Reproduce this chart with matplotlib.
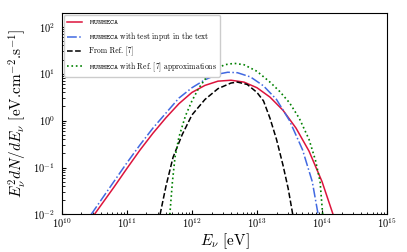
import numpy as np
import matplotlib
matplotlib.use("Agg")
import matplotlib.pyplot as plt

plt.rcParams['font.family'] = 'cmr10'
plt.rcParams['mathtext.fontset'] = 'cm'
plt.rcParams['axes.formatter.use_mathtext'] = True

# curves as (log10 E, log10 E^2 dN/dE)
munheca_logE = [10.50, 10.8, 11.0, 11.2, 11.4, 11.6, 11.8, 12.0, 12.2, 12.4, 12.6,
                12.8, 13.0, 13.2, 13.4, 13.6, 13.8, 14.0, 14.17]
munheca_logF = [-2.0, -1.42, -1.02, -0.63, -0.27, 0.06, 0.36, 0.6, 0.75, 0.84, 0.86,
                0.82, 0.70, 0.50, 0.22, -0.16, -0.65, -1.3, -2.0]

test_logE = [10.45, 10.8, 11.0, 11.2, 11.4, 11.6, 11.8, 12.0, 12.2, 12.4, 12.55,
             12.7, 12.9, 13.1, 13.3, 13.5, 13.7, 13.85, 13.94]
test_logF = [-2.0, -1.3, -0.9, -0.52, -0.16, 0.16, 0.48, 0.70, 0.87, 0.99, 1.03,
             1.02, 0.93, 0.74, 0.45, 0.0, -0.62, -1.3, -2.0]

ref7_logE = [11.51, 11.6, 11.71, 11.85, 12.0, 12.2, 12.4, 12.6, 12.7, 12.85,
             13.0, 13.1, 13.2, 13.3, 13.4, 13.48, 13.55]
ref7_logF = [-2.0, -1.4, -0.78, -0.3, 0.12, 0.45, 0.68, 0.8, 0.82, 0.77,
             0.6, 0.42, 0.05, -0.4, -0.95, -1.45, -2.0]

approx_logE = [11.66, 11.70, 11.74, 11.8, 11.9, 12.0, 12.1, 12.2, 12.35, 12.5, 12.65,
               12.8, 13.0, 13.2, 13.35, 13.5, 13.65, 13.8, 13.9, 13.97, 14.01]
approx_logF = [-2.0, -1.3, -0.78, -0.35, 0.1, 0.42, 0.68, 0.88, 1.08, 1.19, 1.22,
               1.19, 1.05, 0.82, 0.62, 0.38, 0.05, -0.4, -0.85, -1.3, -2.0]

fig = plt.figure(figsize=(4.07, 2.52), dpi=100)
ax = fig.add_axes([0.152, 0.149, 0.799, 0.801])

ax.plot(10**np.array(munheca_logE), 10**np.array(munheca_logF), color='crimson', lw=1.1,
        label=r'$\mathtt{MUNHECA}$')
ax.plot(10**np.array(test_logE), 10**np.array(test_logF), color='royalblue', lw=1.1, ls='-.',
        label=r'$\mathtt{MUNHECA}$ with test input in the text')
ax.plot(10**np.array(ref7_logE), 10**np.array(ref7_logF), color='k', lw=1.1, ls='--',
        label='From Ref. [7]')
ax.plot(10**np.array(approx_logE), 10**np.array(approx_logF), color='green', lw=1.2, ls=':',
        label=r'$\mathtt{MUNHECA}$ with Ref. [7] approximations')

ax.set_xscale('log')
ax.set_yscale('log')
ax.set_xlim(1e10, 1e15)
ax.set_ylim(1e-2, 2e2)
ax.set_xlabel(r'$E_\nu$ [eV]', fontsize=11, labelpad=1)
ax.set_ylabel(r'$E_\nu^2 dN/dE_\nu$ [eV.cm$^{-2}$.s$^{-1}$]', fontsize=11)
ax.yaxis.set_label_coords(-0.1, 0.5)
ax.tick_params(which='both', direction='in', labelsize=7.5)
ax.tick_params(which='major', length=3)
ax.tick_params(which='minor', length=1.8)
ax.tick_params(axis='x', which='both', pad=1.5)
ax.tick_params(axis='y', which='both', pad=5)
ax.legend(loc='upper left', fontsize=5.5, framealpha=1, borderaxespad=0.3)

fig.savefig('out.png', dpi=100)
